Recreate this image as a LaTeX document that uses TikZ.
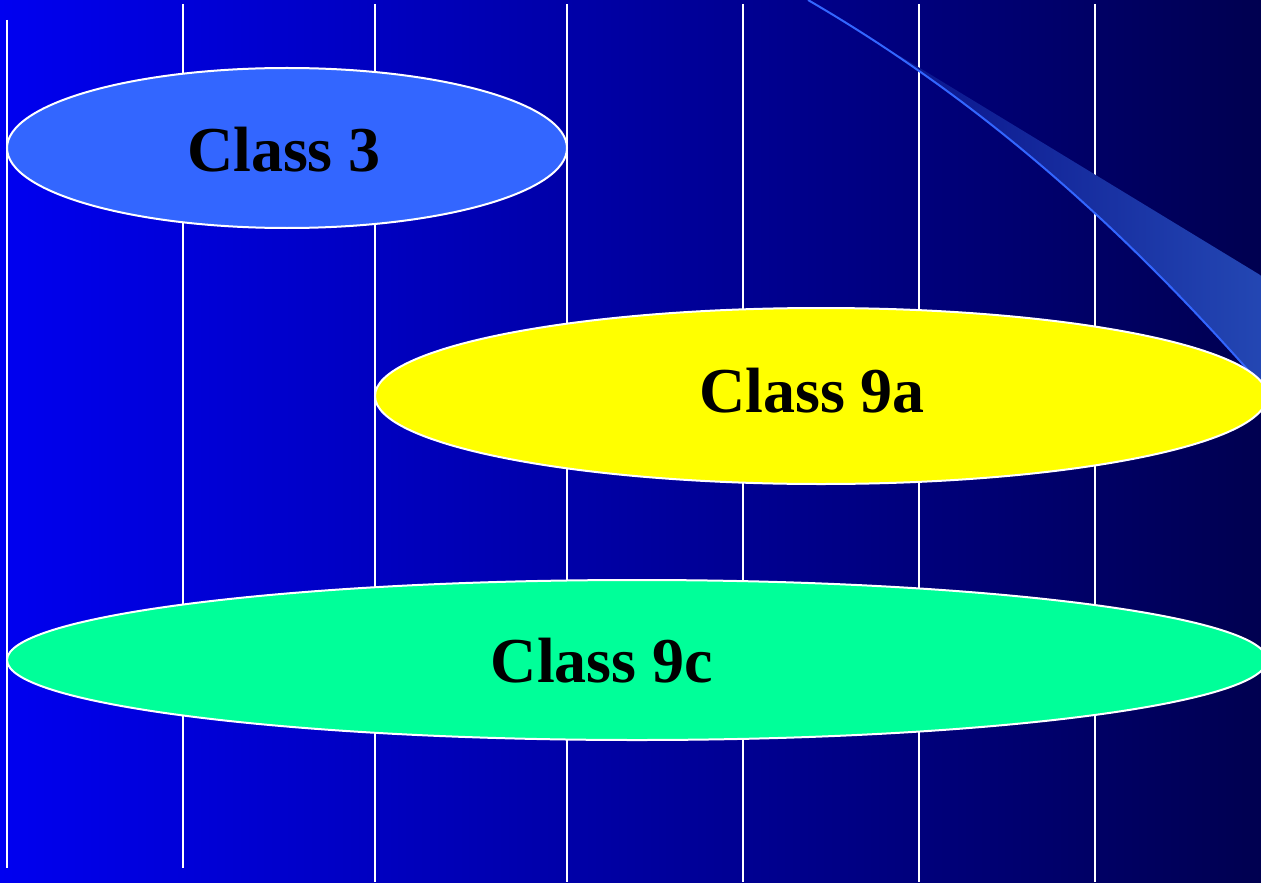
\documentclass[tikz,border=0pt]{standalone}
\usepackage{fontspec}
\setmainfont{Liberation Serif}
\usetikzlibrary{shapes.geometric}

\definecolor{bgleft}{RGB}{0,0,240}
\definecolor{bgright}{RGB}{0,0,80}
\definecolor{classblue}{RGB}{51,102,255}
\definecolor{classyellow}{RGB}{255,255,0}
\definecolor{classgreen}{RGB}{0,255,153}
\definecolor{beamleft}{RGB}{10,20,140}
\definecolor{beamright}{RGB}{36,72,180}

\begin{document}
\begin{tikzpicture}[x=0.5pt, y=-0.5pt,
    gridline/.style={white, line width=1pt},
    classbox/.style={ellipse, draw=white, line width=1pt, inner sep=0pt},
    classlabel/.style={anchor=base, text=black, font=\fontsize{32}{38}\selectfont\bfseries}]

\useasboundingbox (0,0) rectangle (1261,882);
\clip (0,0) rectangle (1261,882);

% background
\shade[left color=bgleft, right color=bgright] (0,0) rectangle (1261,882);

% vertical lines
\draw[gridline] (7,20) -- (7,868);
\draw[gridline] (183,4) -- (183,868);
\foreach \x in {375,567,743,919,1095}
{
    \draw[gridline] (\x,4) -- (\x,882);
}

% beam in the corner
\begin{scope}
    \clip (808,0) .. controls (978,99) and (1120,223) .. (1270,395) -- (1270,0) -- cycle;
    \shade[left color=beamleft, right color=beamright]
        (900,56) -- (1270,281) -- (1270,520) -- (900,520) -- cycle;
\end{scope}
\draw[classblue, line width=1pt] (808,0) .. controls (978,99) and (1120,223) .. (1270,395);

% classes
\node[classbox, fill=classblue, minimum width=280pt, minimum height=80pt] (c3) at (287,148) {};
\node[classbox, fill=classyellow, minimum width=446pt, minimum height=88pt] (c9a) at (821,396) {};
\node[classbox, fill=classgreen, minimum width=630pt, minimum height=80pt] (c9c) at (637,660) {};

\node[classlabel] (t3) at (284,172) {Class 3};
\node[classlabel] (t9a) at (812,412) {Class 9a};
\node[classlabel] (t9c) at (602,682) {Class 9c};

\end{tikzpicture}
\end{document}
